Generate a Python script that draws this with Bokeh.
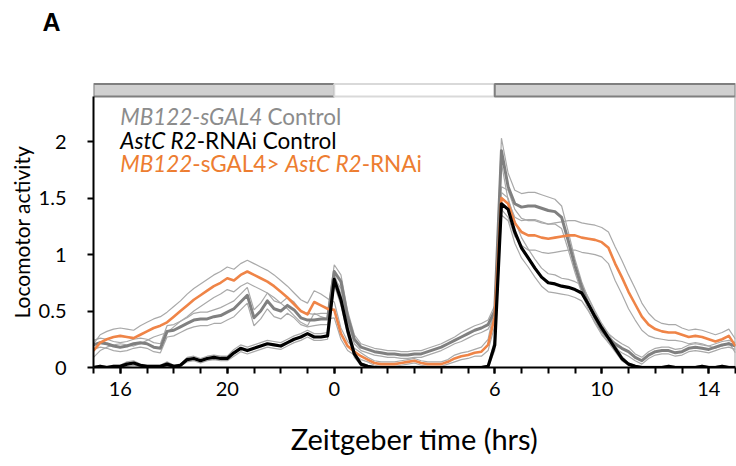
import os
import subprocess
import numpy as np
from bokeh.plotting import figure
from bokeh.layouts import column, row
from bokeh.models import FixedTicker, Label, Range1d, Title
from bokeh.core.properties import value
from bokeh.embed import file_html
from bokeh.resources import INLINE

# ---------------- data ----------------
# Zeitgeber time (hrs, relative to lights-on), sampled every 15 min
zt = np.arange(-9, 15.001, 0.25)

# MB122-sGAL4 Control (mean, SEM)
gray_mean = [
    0.20, 0.22, 0.21, 0.19,
    0.18, 0.19, 0.21, 0.22,
    0.21, 0.18, 0.17, 0.32,
    0.33, 0.36, 0.39, 0.42,
    0.43, 0.43, 0.45, 0.46,
    0.49, 0.52, 0.58, 0.64,
    0.44, 0.50, 0.59, 0.52,
    0.50, 0.55, 0.51, 0.44,
    0.42, 0.42, 0.43, 0.43,
    0.85, 0.76, 0.45, 0.25,
    0.18, 0.16, 0.14, 0.13,
    0.12, 0.12, 0.11, 0.11,
    0.12, 0.12, 0.14, 0.16,
    0.18, 0.21, 0.24, 0.27,
    0.30, 0.33, 0.35, 0.38,
    0.50, 1.92, 1.60, 1.45,
    1.42, 1.43, 1.43, 1.41,
    1.39, 1.38, 1.33, 1.12,
    0.90, 0.71, 0.56, 0.44,
    0.33, 0.26, 0.21, 0.17,
    0.14, 0.09, 0.06, 0.11,
    0.14, 0.15, 0.15, 0.13,
    0.14, 0.17, 0.18, 0.17,
    0.16, 0.18, 0.20, 0.21,
    0.19]
gray_sem = [
    0.04, 0.04, 0.04, 0.04,
    0.04, 0.04, 0.04, 0.04,
    0.04, 0.04, 0.04, 0.05,
    0.05, 0.05, 0.05, 0.06,
    0.06, 0.06, 0.06, 0.07,
    0.07, 0.07, 0.07, 0.07,
    0.07, 0.07, 0.07, 0.07,
    0.07, 0.07, 0.07, 0.06,
    0.06, 0.05, 0.05, 0.05,
    0.06, 0.06, 0.05, 0.04,
    0.03, 0.03, 0.03, 0.03,
    0.03, 0.03, 0.03, 0.03,
    0.03, 0.03, 0.03, 0.03,
    0.03, 0.03, 0.03, 0.04,
    0.04, 0.04, 0.04, 0.04,
    0.05, 0.11, 0.12, 0.12,
    0.12, 0.12, 0.12, 0.12,
    0.12, 0.11, 0.10, 0.08,
    0.06, 0.05, 0.05, 0.05,
    0.04, 0.04, 0.04, 0.04,
    0.04, 0.03, 0.03, 0.03,
    0.03, 0.03, 0.03, 0.03,
    0.03, 0.03, 0.03, 0.03,
    0.03, 0.03, 0.03, 0.03,
    0.03]

# AstC R2-RNAi Control (mean, SEM)
black_mean = [
    0.00, 0.01, 0.00, 0.01,
    0.01, 0.03, 0.04, 0.02,
    0.01, 0.01, 0.01, 0.03,
    0.01, 0.02, 0.07, 0.08,
    0.06, 0.08, 0.09, 0.08,
    0.08, 0.13, 0.17, 0.15,
    0.17, 0.19, 0.21, 0.20,
    0.19, 0.22, 0.25, 0.27,
    0.30, 0.27, 0.27, 0.28,
    0.78, 0.60, 0.33, 0.12,
    0.03, 0.01, 0.00, 0.00,
    0.00, 0.00, 0.00, 0.00,
    0.00, 0.00, 0.00, 0.00,
    0.00, 0.00, 0.00, 0.00,
    0.00, 0.00, 0.00, 0.01,
    0.20, 1.45, 1.40, 1.20,
    1.06, 0.97, 0.88, 0.80,
    0.75, 0.74, 0.72, 0.71,
    0.69, 0.66, 0.56, 0.45,
    0.35, 0.26, 0.17, 0.08,
    0.03, 0.01, 0.00, 0.00,
    0.00, 0.00, 0.01, 0.00,
    0.00, 0.00, 0.00, 0.01,
    0.00, 0.00, 0.01, 0.00,
    0.00]
black_sem = [
    0.01, 0.01, 0.01, 0.01,
    0.01, 0.02, 0.02, 0.01,
    0.01, 0.01, 0.01, 0.02,
    0.01, 0.01, 0.02, 0.02,
    0.02, 0.02, 0.02, 0.02,
    0.02, 0.03, 0.03, 0.03,
    0.03, 0.03, 0.03, 0.03,
    0.03, 0.03, 0.03, 0.03,
    0.03, 0.03, 0.03, 0.03,
    0.05, 0.05, 0.04, 0.03,
    0.01, 0.01, 0.01, 0.01,
    0.01, 0.01, 0.01, 0.01,
    0.01, 0.01, 0.01, 0.01,
    0.01, 0.01, 0.01, 0.01,
    0.01, 0.01, 0.01, 0.01,
    0.05, 0.10, 0.10, 0.10,
    0.09, 0.08, 0.08, 0.08,
    0.08, 0.08, 0.07, 0.07,
    0.07, 0.07, 0.06, 0.05,
    0.04, 0.04, 0.03, 0.02,
    0.01, 0.01, 0.01, 0.01,
    0.01, 0.01, 0.01, 0.01,
    0.01, 0.01, 0.01, 0.01,
    0.01, 0.01, 0.01, 0.01,
    0.01]

# MB122-sGAL4 > AstC R2-RNAi (mean, SEM)
orange_mean = [
    0.15, 0.22, 0.25, 0.27,
    0.28, 0.27, 0.26, 0.29,
    0.32, 0.35, 0.37, 0.40,
    0.45, 0.50, 0.55, 0.60,
    0.64, 0.68, 0.72, 0.75,
    0.79, 0.77, 0.82, 0.85,
    0.82, 0.79, 0.76, 0.72,
    0.67, 0.62, 0.56, 0.50,
    0.47, 0.58, 0.55, 0.52,
    0.51, 0.30, 0.19, 0.14,
    0.10, 0.07, 0.04, 0.03,
    0.03, 0.03, 0.04, 0.05,
    0.06, 0.04, 0.03, 0.03,
    0.03, 0.05, 0.08, 0.10,
    0.11, 0.13, 0.14, 0.20,
    0.45, 1.50, 1.45, 1.28,
    1.20, 1.17, 1.17, 1.15,
    1.14, 1.15, 1.16, 1.17,
    1.17, 1.15, 1.14, 1.13,
    1.11, 1.06, 0.92, 0.80,
    0.67, 0.56, 0.45, 0.38,
    0.34, 0.32, 0.31, 0.31,
    0.29, 0.27, 0.28, 0.27,
    0.25, 0.23, 0.25, 0.28,
    0.19]
orange_sem = [
    0.06, 0.07, 0.07, 0.07,
    0.07, 0.07, 0.07, 0.08,
    0.08, 0.08, 0.08, 0.09,
    0.09, 0.09, 0.10, 0.10,
    0.10, 0.10, 0.10, 0.10,
    0.10, 0.10, 0.10, 0.10,
    0.10, 0.10, 0.10, 0.10,
    0.10, 0.10, 0.10, 0.10,
    0.10, 0.10, 0.10, 0.09,
    0.07, 0.05, 0.04, 0.03,
    0.03, 0.02, 0.02, 0.02,
    0.02, 0.02, 0.02, 0.02,
    0.02, 0.02, 0.02, 0.02,
    0.02, 0.02, 0.03, 0.03,
    0.03, 0.03, 0.04, 0.05,
    0.08, 0.10, 0.12, 0.12,
    0.12, 0.13, 0.13, 0.13,
    0.13, 0.13, 0.13, 0.13,
    0.13, 0.13, 0.13, 0.13,
    0.13, 0.14, 0.15, 0.15,
    0.15, 0.14, 0.12, 0.10,
    0.08, 0.07, 0.07, 0.07,
    0.06, 0.06, 0.06, 0.06,
    0.06, 0.06, 0.06, 0.06,
    0.06]

# light schedule (dark / light / dark)
phase_start = [-9, 0, 6]
phase_end = [0, 6, 15]
phase_is_light = [False, True, False]

# axes
x_tick_pos = [-8, -4, 0, 6, 10, 14]
x_tick_labels = ["16", "20", "0", "6", "10", "14"]
x_minor = list(range(-9, 16))
y_tick_pos = [0, 0.5, 1, 1.5, 2]
y_tick_labels = ["0", "0.5", "1", "1.5", "2"]
x_title = "Zeitgeber time (hrs)"
y_title = "Locomotor activity"
panel_letter = "A"

legend_rows = [
    [("MB122-sGAL4 ", "italic"), ("Control", "normal")],
    [("AstC R2", "italic"), ("-RNAi Control", "normal")],
    [("MB122", "italic"), ("-sGAL4> ", "normal"), ("AstC R2", "italic"), ("-RNAi", "normal")],
]

# ---------------- style ----------------
GRAY = "#808080"
ORANGE = "#EF8447"
SEM_C = "#A9A9A9"
FONT = "Lato"
LEG_SIZE = 22.5


def _font_file(style):
    try:
        r = subprocess.run(["fc-match", "-f", "%{file}", f"Lato:style={style}"],
                           capture_output=True, text=True, timeout=10)
        f = r.stdout.strip()
        if f and os.path.exists(f):
            return f
    except Exception:
        pass
    return None


def seg_offsets(segs, size, fallback):
    try:
        from PIL import ImageFont
        fonts = {}
        offs, acc = [], 0.0
        for txt, style in segs:
            key = "Italic" if style == "italic" else "Regular"
            if key not in fonts:
                fonts[key] = ImageFont.truetype(_font_file(key), 200)
            offs.append(acc)
            acc += fonts[key].getlength(txt) * size / 200.0
        return offs
    except Exception:
        return fallback


def bare(fig):
    fig.outline_line_color = None
    fig.background_fill_color = "white"
    fig.border_fill_color = "white"
    return fig


# header strip with the panel letter
header = bare(figure(width=736, height=44, output_backend="svg", toolbar_location=None,
                     x_range=Range1d(0, 736), y_range=Range1d(0, 44), min_border=0,
                     x_axis_location=None, y_axis_location=None))
for g in header.grid:
    g.visible = False
header.text(x=[42], y=[23], text=[panel_letter], text_font=value("Liberation Sans"),
            text_font_style="bold", text_font_size="25px", text_color="black",
            text_align="left", text_baseline="middle")

# main chart
p = bare(figure(width=736, height=422, output_backend="svg", toolbar_location=None,
                x_range=Range1d(-9, 15), y_range=Range1d(0, 2.55),
                min_border_left=93, min_border_right=1, min_border_top=35,
                min_border_bottom=99))
p.xgrid.visible = False
p.ygrid.visible = False

# light bars
p.quad(left=phase_start, right=phase_end, bottom=2.40, top=2.51,
       fill_color=["white" if l else "#D0D0D0" for l in phase_is_light],
       line_color=["#D9D9D9" if l else "#7F7F7F" for l in phase_is_light],
       line_width=2)
# right frame line
p.segment(x0=[phase_end[-1]], y0=[0], x1=[phase_end[-1]], y1=[2.40],
          line_color="#A6A6A6", line_width=2)

series = [(gray_mean, gray_sem, GRAY, 3),
          (orange_mean, orange_sem, ORANGE, 2.6),
          (black_mean, black_sem, "black", 3.2)]
for mean, sem, col, lw in series:
    m = np.array(mean)
    s = np.array(sem)
    p.line(zt, m + s, line_color=SEM_C, line_width=1.2)
    p.line(zt, np.maximum(m - s, 0), line_color=SEM_C, line_width=1.2)
for mean, sem, col, lw in series:
    p.line(zt, mean, line_color=col, line_width=lw, line_join="round")

# axes
xa = p.xaxis[0]
xa.ticker = FixedTicker(ticks=x_tick_pos, minor_ticks=x_minor)
xa.major_label_overrides = {t: l for t, l in zip(x_tick_pos, x_tick_labels)}
xa.axis_line_width = 2
xa.axis_line_color = "black"
xa.major_tick_out = 6
xa.major_tick_in = 0
xa.minor_tick_out = 6
xa.minor_tick_in = 0
xa.major_tick_line_width = 2
xa.minor_tick_line_width = 2
xa.minor_tick_line_color = "black"
xa.major_label_text_font = FONT
xa.major_label_text_font_size = "20px"
xa.major_label_text_color = "black"
xa.major_label_standoff = 8
xa.axis_label = x_title
xa.axis_label_text_font = FONT
xa.axis_label_text_font_style = "normal"
xa.axis_label_text_font_size = "29px"
xa.axis_label_text_color = "black"
xa.axis_label_standoff = 22

ya = p.yaxis[0]
ya.ticker = FixedTicker(ticks=y_tick_pos)
ya.major_label_overrides = {t: l for t, l in zip(y_tick_pos, y_tick_labels)}
ya.bounds = (0, 2.40)
ya.axis_line_width = 2
ya.axis_line_color = "black"
ya.major_tick_out = 6
ya.major_tick_in = 0
ya.major_tick_line_width = 2
ya.minor_tick_line_color = None
ya.major_label_text_font = FONT
ya.major_label_text_font_size = "20px"
ya.major_label_text_color = "black"
ya.major_label_standoff = 21

# y-axis title as a side title, anchored at its start
p.add_layout(Title(text=y_title, align="left", offset=49, standoff=4,
                   vertical_align="bottom", text_font=FONT,
                   text_font_style="normal", text_font_size="21px",
                   text_color="black"), "left")

# legend text (mixed italic segments)
legend_colors = ["#8C8C8C", "black", "#ED7D31"]
legend_y = [2.22, 2.01, 1.805]
legend_fallback = [[0, 146], [0, 75], [0, 64, 152, 228]]
for segs, col, yy, fb in zip(legend_rows, legend_colors, legend_y, legend_fallback):
    offs = seg_offsets(segs, LEG_SIZE, fb)
    for (txt, style), off in zip(segs, offs):
        p.add_layout(Label(x=x_tick_pos[0], y=yy, x_offset=round(off, 1), text=txt.strip(),
                           text_font=FONT, text_font_style=style,
                           text_font_size=f"{LEG_SIZE}px", text_color=col,
                           text_baseline="middle", text_align="left"))

# nesting the chart in a row keeps the header's frame from being aligned to it
layout = column(header, row(p))
open("out.html", "w").write(file_html(layout, INLINE))
